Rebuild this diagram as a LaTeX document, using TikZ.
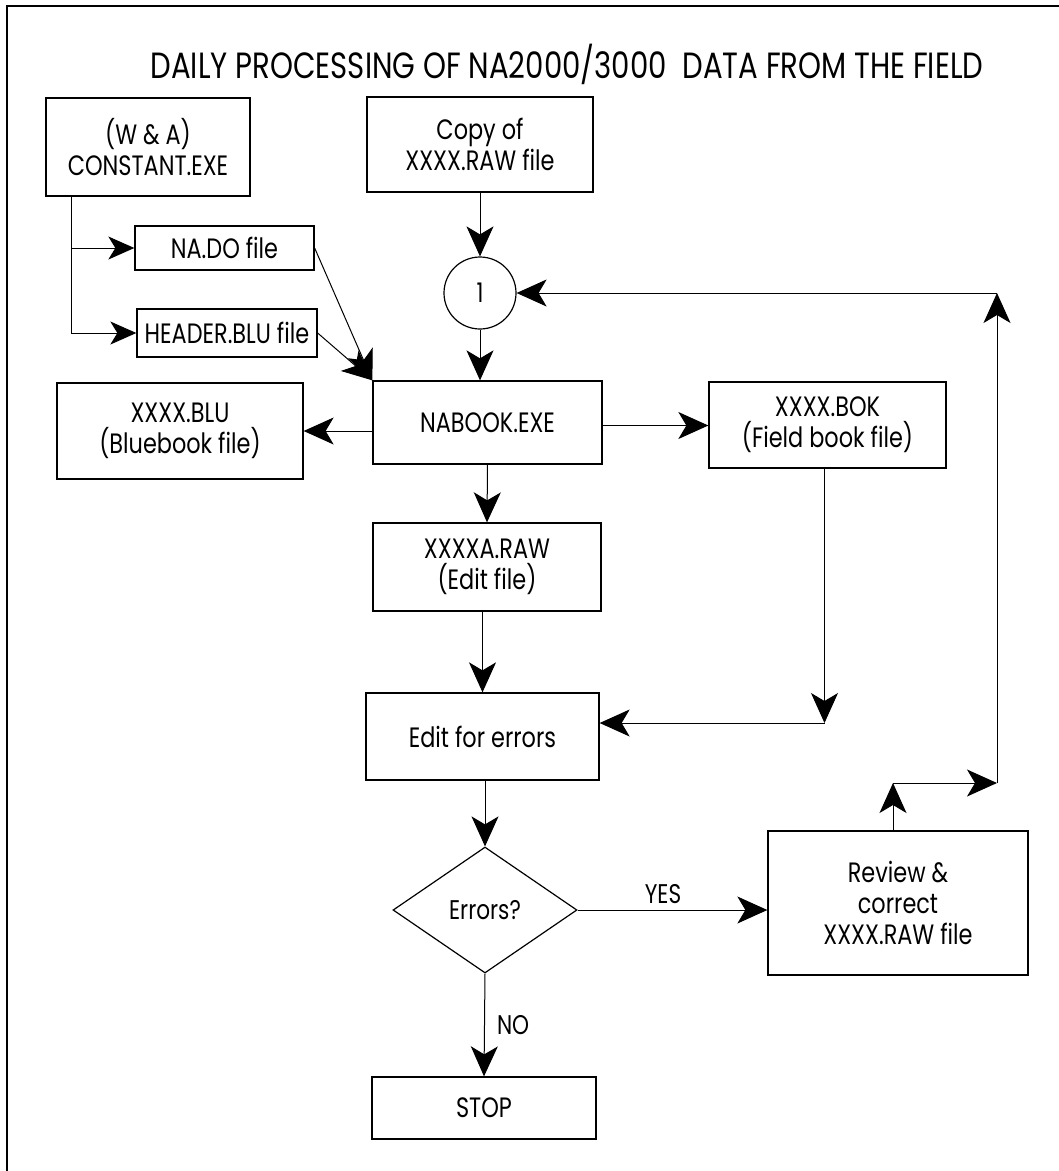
\documentclass[tikz,border=0pt]{standalone}
\usepackage{fontspec}
\setmainfont{Poppins}[FakeStretch=0.8]
\usetikzlibrary{arrows.meta,shapes.geometric,calc}
\begin{document}
\begin{tikzpicture}[x=1pt,y=-1pt,
  box/.style={draw, line width=1.3pt, align=center, inner sep=0pt,
    font=\fontsize{28}{31}\selectfont},
  arr/.style={line width=1pt, -{Stealth[length=30pt,width=27pt,inset=8pt]}},
  sarr/.style={line width=1pt, -{Stealth[length=26pt,width=23pt,inset=7pt]}},
  lbl/.style={font=\fontsize{27}{30}\selectfont, inner sep=0pt}]
\useasboundingbox (0,0) rectangle (1059,1171);
\draw[line width=2pt] (7,1171) -- (7,6) -- (1059,6);

\node[font=\fontsize{36.5}{40}\selectfont, inner sep=0pt] (title) at (567,64)
  {DAILY PROCESSING OF NA2000/3000\ \ DATA FROM THE FIELD};

\node[box, minimum width=204pt, minimum height=98pt] (const) at (148,147) {(W \& A)\\CONSTANT.EXE};
\node[box, minimum width=226pt, minimum height=95pt] (copy) at (480,144.5) {Copy of\\XXXX.RAW file};
\node[draw, circle, line width=1.2pt, minimum size=72pt, inner sep=0pt,
  font=\fontsize{27}{30}\selectfont] (c1) at (480,293) {1};
\node[box, minimum width=179pt, minimum height=44pt] (nado) at (224.5,248) {NA.DO file};
\node[box, minimum width=180pt, minimum height=48pt] (header) at (227,333) {HEADER.BLU file};
\node[box, minimum width=229pt, minimum height=83pt] (nabook) at (487.5,422.5) {NABOOK.EXE};
\node[box, minimum width=246pt, minimum height=96pt] (blu) at (180,431) {XXXX.BLU\\(Bluebook file)};
\node[box, minimum width=237pt, minimum height=86pt] (bok) at (827.5,425) {XXXX.BOK\\(Field book file)};
\node[box, minimum width=228pt, minimum height=88pt] (xraw) at (487,567) {XXXXA.RAW\\(Edit file)};
\node[box, minimum width=233pt, minimum height=87pt] (edit) at (482.5,736.5) {Edit for errors};
\node[draw, diamond, line width=1.2pt, minimum width=184pt, minimum height=126pt,
  inner sep=0pt, font=\fontsize{27}{30}\selectfont] (dia) at (485,910) {Errors?};
\node[box, minimum width=224pt, minimum height=62pt] (stop) at (484,1108) {STOP};
\node[box, minimum width=260pt, minimum height=144pt] (review) at (898,903) {Review \&\\correct\\XXXX.RAW file};

% connectors
\draw[sarr] ([xshift=26pt]const.south west) |- (nado.west);
\draw[sarr] ([xshift=26pt]const.south west) |- (header.west);
\draw[arr] (nado.east) -- (nabook.north west);
\draw[arr] (header.east) -- (nabook.north west);
\draw[arr] (copy.south) -- (c1.north);
\draw[arr] (c1.south) -- (c1.south |- nabook.north);
\draw[arr] (blu.east -| nabook.west) -- (blu.east);
\draw[arr] ([yshift=-3pt]nabook.east) -- ([yshift=-3pt]nabook.east -| bok.west);
\draw[arr] (nabook.south) -- (xraw.north);
\draw[arr] (edit.north |- xraw.south) -- (edit.north);

\coordinate (j1) at ([xshift=-3pt]bok.south |- 0,723);
\draw[arr] ([xshift=-3pt]bok.south) -- (j1);
\draw[arr] (j1) -- (j1 -| edit.east);

\draw[arr] (edit.south -| dia.north) -- (dia.north);
\draw[arr] (dia.south) -- node[lbl, right=12pt, pos=0.5] (no) {NO} (stop.north);
\draw[arr] (dia.east) -- node[lbl, above=6pt, pos=0.45] (yes) {YES} (dia.east -| review.west);

\coordinate (r1) at ([xshift=-5pt]review.north |- 0,783);
\coordinate (r2) at (997,783);
\coordinate (r3) at (997,293);
\draw[arr] ([xshift=-5pt]review.north) -- (r1);
\draw[arr] (r1) -- (r2);
\draw[arr] (r2) -- (r3);
\draw[arr] (r3) -- (c1.east);
\end{tikzpicture}
\end{document}
